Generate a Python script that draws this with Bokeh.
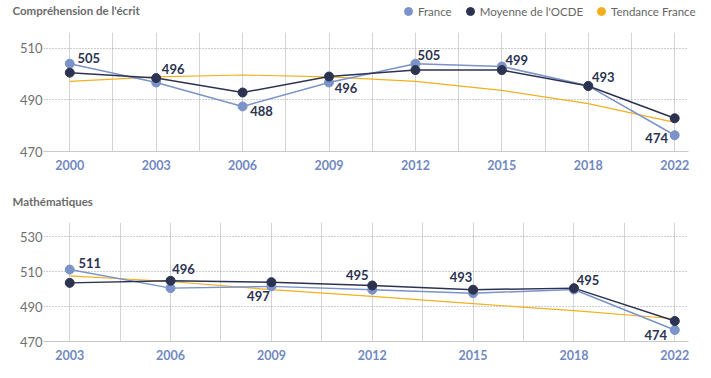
from bokeh.plotting import figure
from bokeh.models import ColumnDataSource, FixedTicker, Label, Legend, LegendItem, Range1d
from bokeh.layouts import column
from bokeh.embed import file_html
from bokeh.resources import INLINE
from bokeh.core.properties import value

# ---- data: Compréhension de l'écrit ----
years_read = ["2000", "2003", "2006", "2009", "2012", "2015", "2018", "2022"]
fr_read = [504.1, 496.8, 487.5, 496.8, 504.1, 503.0, 495.5, 476.3]
oecd_read = [500.6, 498.5, 492.9, 499.1, 501.6, 501.6, 495.4, 482.9]
trend_read = [497.2, 499.0, 499.7, 499.0, 497.2, 493.7, 488.6, 481.3]
fr_read_labels = ["505", "496", "488", "496", "505", "499", "493", "474"]
yticks_read = [470, 490, 510]

# ---- data: Mathématiques ----
years_math = ["2003", "2006", "2009", "2012", "2015", "2018", "2022"]
fr_math = [511.1, 500.5, 501.5, 499.6, 497.6, 499.7, 476.6]
oecd_math = [503.5, 504.7, 503.9, 502.0, 499.6, 500.5, 481.7]
trend_math = [507.5, 504.3, 499.6, 495.8, 491.6, 487.6, 483.0]
fr_math_labels = ["511", "496", "497", "495", "493", "495", "474"]
yticks_math = [470, 490, 510, 530]

series_names = ["France", "Moyenne de l'OCDE", "Tendance France"]

# label offsets (px)
read_dx = [19, 17, 19, 17, 13.5, 15, 15, -18]
read_dy = [-5.6, -13, 5, 6, -9, -7, -9, 3]
math_dx = [20, 13, -13, -15, -12, 14, -19]
math_dy = [-7, -19, 10, -15, -16, -10, 5]

C_FR = "#7b93c9"
C_OECD = "#2c3350"
C_TREND = "#f2b01e"
C_TICK = "#7189c2"
C_GRAY = "#6b6b6b"
FONT = "Lato"


def header(title, height, title_y, with_legend):
    h = figure(width=711, height=height, output_backend="svg", toolbar_location=None,
               x_axis_type=None, y_axis_type=None,
               x_range=Range1d(0, 1), y_range=Range1d(0, 1),
               min_border_left=0, min_border_right=0, min_border_top=0, min_border_bottom=0)
    h.frame_align = False
    h.outline_line_color = None
    h.grid.visible = False
    h.add_layout(Label(x=12, y=title_y, x_units="screen", y_units="screen", text=title,
                       text_font=FONT, text_font_style="bold", text_font_size="11.5px",
                       text_color=C_GRAY, text_baseline="middle"))
    if with_legend:
        # off-range dummy markers used only as legend swatches
        rs = [h.scatter(x=[-5], y=[-5], size=9, fill_color=c, line_color=c)
              for c in (C_FR, C_OECD, C_TREND)]
        leg = Legend(items=[LegendItem(label=n, renderers=[r]) for n, r in zip(series_names, rs)],
                     orientation="horizontal", location=(398, 1),
                     glyph_width=20, glyph_height=20, label_standoff=0, spacing=8,
                     padding=0, margin=0, border_line_color=None,
                     background_fill_alpha=0,
                     label_text_font=FONT, label_text_font_size="11.5px",
                     label_text_color="#666666", label_height=20)
        h.add_layout(leg, "center")
    return h


def panel(years, fr, oecd, trend, labels, dx, dy, y0, y1, yticks,
          height, top, bottom, x_lo, x_hi):
    n = len(years)
    xs = list(range(n))
    p = figure(width=711, height=height, output_backend="svg", toolbar_location=None,
               min_border_left=43, min_border_right=23,
               min_border_top=top, min_border_bottom=bottom,
               x_range=Range1d(x_lo, n - 1 + x_hi),
               y_range=Range1d(y0, y1))
    p.outline_line_color = None
    p.background_fill_color = "white"

    p.xgrid.ticker = FixedTicker(ticks=[i * 0.5 for i in range(2 * n - 1)])
    p.xgrid.grid_line_color = "#d4d4d4"
    p.ygrid.ticker = FixedTicker(ticks=yticks)
    p.ygrid.grid_line_color = "#9a9a9a"
    p.ygrid.grid_line_dash = "1 2"

    p.xaxis.ticker = FixedTicker(ticks=xs)
    p.xaxis.major_label_overrides = {i: y for i, y in enumerate(years)}
    p.xaxis.axis_line_color = "#c8c8c8"
    p.xaxis.major_tick_line_color = None
    p.xaxis.minor_tick_line_color = None
    p.xaxis.major_tick_out = 0
    p.xaxis.minor_tick_out = 0
    p.xaxis.major_label_text_color = C_TICK
    p.xaxis.major_label_text_font = FONT
    p.xaxis.major_label_text_font_style = "bold"
    p.xaxis.major_label_text_font_size = "12.5px"
    p.xaxis.major_label_standoff = 8

    p.yaxis.ticker = FixedTicker(ticks=yticks)
    p.yaxis.axis_line_color = None
    p.yaxis.major_tick_line_color = None
    p.yaxis.minor_tick_line_color = None
    p.yaxis.major_tick_out = 0
    p.yaxis.minor_tick_out = 0
    p.yaxis.major_label_text_color = "#707070"
    p.yaxis.major_label_text_font = FONT
    p.yaxis.major_label_text_font_size = "13px"
    p.yaxis.major_label_standoff = 1

    src = ColumnDataSource(dict(x=xs, fr=fr, oecd=oecd, trend=trend,
                                lab=labels, dx=dx, dy=dy))
    p.line("x", "trend", source=src, line_color=C_TREND, line_width=1.2)
    p.line("x", "fr", source=src, line_color=C_FR, line_width=1.5)
    p.line("x", "oecd", source=src, line_color=C_OECD, line_width=1.5)
    p.scatter("x", "fr", source=src, size=9, fill_color=C_FR, line_color=C_FR)
    p.scatter("x", "oecd", source=src, size=9, fill_color=C_OECD, line_color=C_OECD)
    p.text("x", "fr", text="lab", source=src, x_offset="dx", y_offset="dy",
           text_align="center", text_baseline="middle",
           text_font=value(FONT), text_font_style="bold", text_font_size="13px",
           text_color=C_OECD)
    return p


h1 = header("Compréhension de l'écrit", 22, 12, True)
p1 = panel(years_read, fr_read, oecd_read, trend_read, fr_read_labels, read_dx, read_dy,
           470, 516.2, yticks_read, 163, 10, 34, -0.304, 0.16)
h2 = header("Mathématiques", 27, 11.3, False)
p2 = panel(years_math, fr_math, oecd_math, trend_math, fr_math_labels, math_dx, math_dy,
           470, 538, yticks_math, 166, 10, 37, -0.26, 0.136)

p = column(h1, p1, h2, p2, spacing=0)
open("out.html", "w").write(file_html(p, INLINE))
